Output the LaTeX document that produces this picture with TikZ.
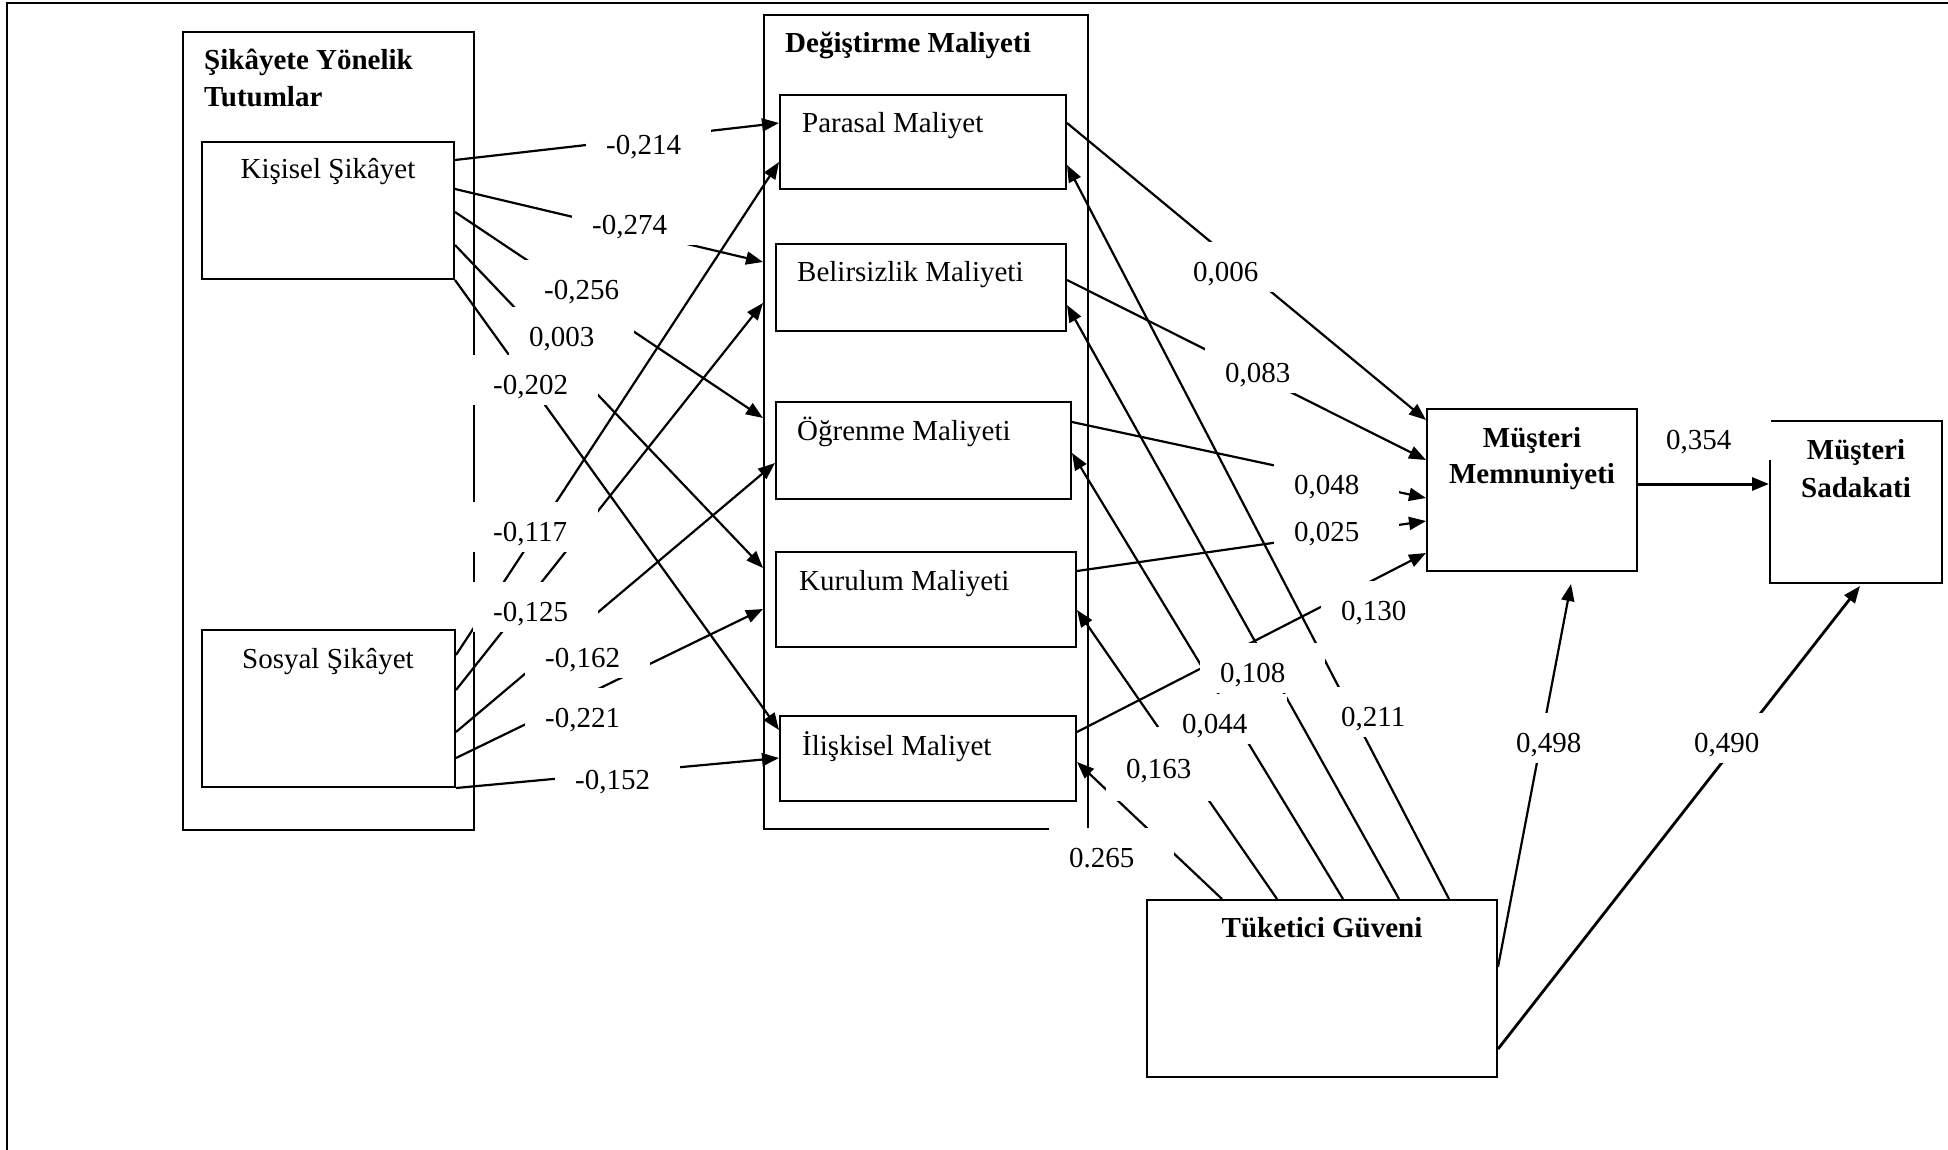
\documentclass[tikz,border=0pt]{standalone}
\usepackage{fontspec}
\setmainfont{Liberation Serif}
\usetikzlibrary{arrows.meta,calc,fit}

\begin{document}
\begin{tikzpicture}[x=1pt,y=-1pt,
  font=\fontsize{29}{37}\selectfont,
  box/.style={draw, line width=2pt, inner sep=0pt},
  link/.style={line width=2.2pt, -{Triangle[length=17pt,width=13pt]}},
  lbl/.style={fill=white, inner xsep=20pt, inner ysep=0pt, text width=85pt,
    align=left, text height=29.5pt, text depth=0pt, minimum height=50pt, anchor=west},
  txt/.style={inner sep=0pt},
  bold/.style={inner sep=0pt, font=\fontsize{29}{37}\selectfont\bfseries},
]
\useasboundingbox (0,0) rectangle (1948,1150);
\fill[white] (0,0) rectangle (1948,1150);

% frame
\draw[line width=2.5pt] (7,1150) -- (7,3) -- (1948,3);

% boxes
\node[box, fit={(183,32)(474,830)}] (grpA) {};
\node[box, fit={(202,142)(454,279)}] (kis) {};
\node[box, fit={(202,630)(455,787)}] (sos) {};
\node[box, fit={(764,15)(1088,829)}] (grpB) {};
\node[box, fit={(780,95)(1066,189)}] (par) {};
\node[box, fit={(776,244)(1066,331)}] (bel) {};
\node[box, fit={(776,402)(1071,499)}] (oge) {};
\node[box, fit={(776,552)(1076,647)}] (kur) {};
\node[box, fit={(780,716)(1076,801)}] (ili) {};
\node[box, fit={(1427,409)(1637,571)}] (mem) {};
\node[box, fit={(1770,421)(1942,583)}] (sad) {};
\node[box, fit={(1147,900)(1497,1077)}] (tuk) {};

% complaint attitudes -> switching costs
\draw[link] (kis.east |- 0,160) -- (par.west |- 0,123);
\draw[link] (kis.east |- 0,189) -- (grpB.west |- 0,262);
\draw[link] (kis.east |- 0,212) -- (grpB.west |- 0,418);
\draw[link] (kis.east |- 0,245) -- (grpB.west |- 0,568);
\draw[link] (kis.south east) -- (ili.west |- 0,730);
\draw[link] (sos.east |- 0,655) -- (par.west |- 0,162);
\draw[link] (sos.east |- 0,690) -- (grpB.west |- 0,303);
\draw[link] (sos.east |- 0,732) -- (oge.west |- 0,463);
\draw[link] (sos.east |- 0,758) -- (grpB.west |- 0,609);
\draw[link] (sos.south east) -- (ili.west |- 0,758);

% switching costs -> satisfaction
\draw[link] (par.east |- 0,123) -- (mem.west |- 0,420);
\draw[link] (bel.east |- 0,280) -- (mem.west |- 0,460);
\draw[link] (oge.east |- 0,422) -- (mem.west |- 0,498);
\draw[link] (kur.east |- 0,571) -- (mem.west |- 0,521);
\draw[link] (ili.east |- 0,732) -- (mem.west |- 0,553);
\draw[link, line width=3pt] (mem.east |- 0,484) -- (sad.west |- 0,484);

% consumer trust -> costs, satisfaction, loyalty
\draw[link] (tuk.north -| 1222,0) -- (ili.east |- 0,762);
\draw[link] (tuk.north -| 1277,0) -- (kur.east |- 0,610);
\draw[link] (tuk.north -| 1343,0) -- (oge.east |- 0,453);
\draw[link] (tuk.north -| 1399,0) -- (bel.east |- 0,305);
\draw[link] (tuk.north -| 1449,0) -- (par.east |- 0,165);
\draw[link] (tuk.east |- 0,967) -- ($(mem.south)+(39,12)$);
\draw[link, line width=2.8pt] (tuk.east |- 0,1049) -- ($(sad.south)+(4,2)$);

% path coefficients
\node[lbl] (c1) at (586,140) {-0,214};
\node[lbl] (c2) at (572,220) {-0,274};
\node[lbl] (c3) at (524,285) {-0,256};
\node[lbl] (c4) at (509,332) {0,003};
\node[lbl] (c5) at (473,380) {-0,202};
\node[lbl] (c6) at (473,527) {-0,117};
\node[lbl] (c7) at (473,607) {-0,125};
\node[lbl] (c8) at (525,653) {-0,162};
\node[lbl] (c9) at (525,713) {-0,221};
\node[lbl] (c10) at (555,775) {-0,152};
\node[lbl] (c11) at (1173,267) {0,006};
\node[lbl] (c12) at (1205,368) {0,083};
\node[lbl] (c13) at (1274,480) {0,048};
\node[lbl] (c14) at (1274,527) {0,025};
\node[lbl] (c15) at (1321,606) {0,130};
\node[lbl] (c16) at (1200,668) {0,108};
\node[lbl] (c17) at (1321,712) {0,211};
\node[lbl, minimum height=74pt] (c19) at (1106,764) {0,163};
\node[lbl] (c18) at (1162,719) {0,044};
\node[lbl] (c20) at (1049,853) {0.265};
\node[lbl] (c21) at (1496,738) {0,498};
\node[lbl] (c22) at (1674,738) {0,490};
\node[lbl] (c23) at (1646,435) {0,354};

% box texts
\node[bold, anchor=base west] (tA1) at (204,70) {Şikâyete Yönelik};
\node[bold, anchor=base west] (tA2) at (204,107) {Tutumlar};
\node[bold, anchor=base west] (tB) at (785,53) {Değiştirme Maliyeti};
\node[txt, anchor=base] (tkis) at (328,179) {Kişisel Şikâyet};
\node[txt, anchor=base] (tsos) at (328,668) {Sosyal Şikâyet};
\node[txt, anchor=base west] (tpar) at (802,133) {Parasal Maliyet};
\node[txt, anchor=base west] (tbel) at (797,282) {Belirsizlik Maliyeti};
\node[txt, anchor=base west] (toge) at (797,440) {Öğrenme Maliyeti};
\node[txt, anchor=base west] (tkur) at (799,590) {Kurulum Maliyeti};
\node[txt, anchor=base west] (tili) at (802,755) {İlişkisel Maliyet};
\node[bold, anchor=base] (tmem1) at (1532,447) {Müşteri};
\node[bold, anchor=base] (tmem2) at (1532,483) {Memnuniyeti};
\node[bold, anchor=base] (tsad1) at (1856,459) {Müşteri};
\node[bold, anchor=base] (tsad2) at (1856,497) {Sadakati};
\node[bold, anchor=base] (ttuk) at (1322,937) {Tüketici Güveni};
\end{tikzpicture}
\end{document}
